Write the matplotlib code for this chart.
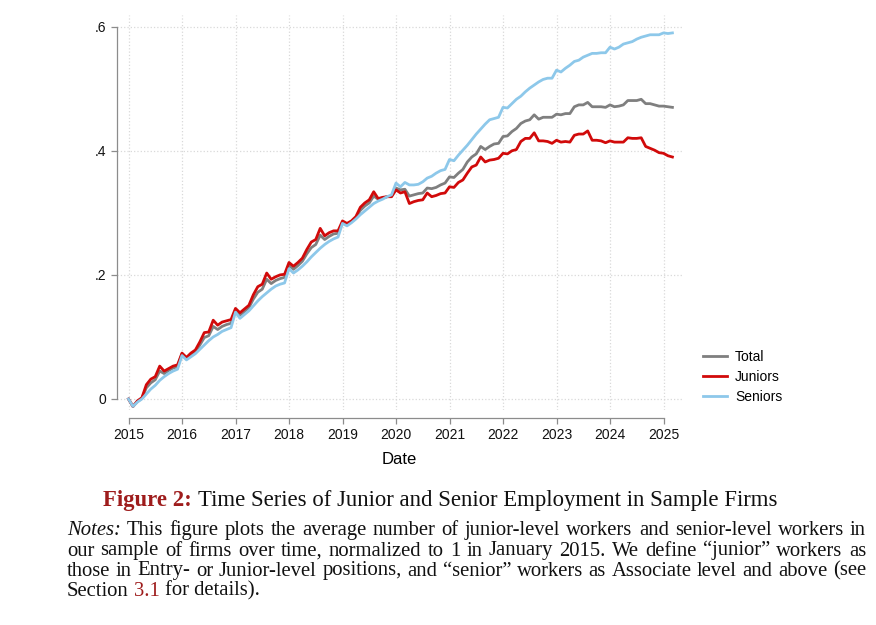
import matplotlib
matplotlib.use('Agg')
import matplotlib.pyplot as plt
import numpy as np

# monthly series, Jan 2015 .. Mar 2025 (log change vs Jan 2015)
total = [0.000, -0.012, -0.004, 0.001, 0.018, 0.026, 0.031, 0.045, 0.041, 0.046, 0.050, 0.052,
         0.073, 0.065, 0.071, 0.076, 0.087, 0.099, 0.102, 0.117, 0.112, 0.117, 0.120, 0.122,
         0.144, 0.135, 0.141, 0.147, 0.161, 0.172, 0.177, 0.193, 0.186, 0.191, 0.194, 0.196,
         0.216, 0.209, 0.215, 0.222, 0.234, 0.244, 0.249, 0.264, 0.257, 0.262, 0.266, 0.267,
         0.285, 0.281, 0.286, 0.292, 0.304, 0.311, 0.316, 0.327, 0.322, 0.324, 0.326, 0.327,
         0.340, 0.337, 0.338, 0.327, 0.329, 0.331, 0.332, 0.340, 0.339, 0.341, 0.345, 0.348,
         0.358, 0.357, 0.364, 0.370, 0.382, 0.390, 0.395, 0.407, 0.402, 0.407, 0.411, 0.412,
         0.423, 0.424, 0.431, 0.436, 0.444, 0.448, 0.450, 0.458, 0.451, 0.454, 0.454, 0.454,
         0.459, 0.458, 0.460, 0.460, 0.471, 0.474, 0.474, 0.478, 0.471, 0.471, 0.471, 0.470,
         0.474, 0.471, 0.472, 0.474, 0.481, 0.481, 0.481, 0.483, 0.476, 0.476, 0.474, 0.472,
         0.472, 0.471, 0.470]
juniors = [0.000, -0.012, -0.003, 0.002, 0.023, 0.032, 0.036, 0.053, 0.045, 0.049, 0.053, 0.055,
           0.074, 0.067, 0.074, 0.079, 0.092, 0.107, 0.108, 0.127, 0.119, 0.124, 0.126, 0.128,
           0.146, 0.139, 0.145, 0.151, 0.168, 0.181, 0.185, 0.203, 0.193, 0.197, 0.200, 0.201,
           0.220, 0.214, 0.220, 0.227, 0.241, 0.253, 0.257, 0.275, 0.263, 0.268, 0.271, 0.271,
           0.287, 0.283, 0.287, 0.294, 0.309, 0.316, 0.321, 0.334, 0.323, 0.325, 0.326, 0.326,
           0.337, 0.332, 0.334, 0.315, 0.318, 0.320, 0.321, 0.332, 0.326, 0.328, 0.331, 0.332,
           0.342, 0.341, 0.349, 0.353, 0.364, 0.374, 0.377, 0.390, 0.382, 0.385, 0.386, 0.388,
           0.396, 0.395, 0.400, 0.402, 0.415, 0.420, 0.420, 0.429, 0.416, 0.416, 0.415, 0.412,
           0.417, 0.414, 0.415, 0.414, 0.425, 0.427, 0.427, 0.432, 0.417, 0.417, 0.416, 0.413,
           0.416, 0.414, 0.414, 0.414, 0.421, 0.420, 0.420, 0.421, 0.407, 0.404, 0.401, 0.397,
           0.396, 0.392, 0.390]
seniors = [0.000, -0.012, -0.005, 0.000, 0.008, 0.016, 0.022, 0.030, 0.036, 0.041, 0.045, 0.048,
           0.070, 0.063, 0.068, 0.073, 0.080, 0.087, 0.094, 0.100, 0.104, 0.109, 0.112, 0.115,
           0.140, 0.130, 0.136, 0.142, 0.150, 0.158, 0.165, 0.171, 0.177, 0.182, 0.185, 0.187,
           0.210, 0.203, 0.208, 0.214, 0.221, 0.229, 0.236, 0.243, 0.249, 0.254, 0.258, 0.261,
           0.283, 0.279, 0.284, 0.290, 0.297, 0.303, 0.309, 0.315, 0.319, 0.322, 0.326, 0.329,
           0.348, 0.342, 0.349, 0.345, 0.345, 0.346, 0.350, 0.356, 0.359, 0.364, 0.368, 0.370,
           0.386, 0.384, 0.393, 0.401, 0.409, 0.418, 0.427, 0.435, 0.443, 0.450, 0.452, 0.454,
           0.470, 0.469, 0.476, 0.483, 0.488, 0.495, 0.501, 0.506, 0.511, 0.515, 0.517, 0.517,
           0.530, 0.527, 0.533, 0.538, 0.544, 0.546, 0.551, 0.554, 0.557, 0.557, 0.558, 0.558,
           0.567, 0.564, 0.567, 0.572, 0.574, 0.576, 0.580, 0.583, 0.585, 0.587, 0.587, 0.587,
           0.590, 0.589, 0.590]

dates = 2015 + np.arange(len(total)) / 12.0
year_ticks = list(range(2015, 2026))
y_ticks = [0, 0.2, 0.4, 0.6]
y_labels = ['0', '.2', '.4', '.6']

caption_red = 'Figure 2:'
caption_rest = 'Time Series of Junior and Senior Employment in Sample Firms'
notes_lines = [
    'This figure plots the average number of junior-level workers and senior-level workers in',
    'our sample of firms over time, normalized to 1 in January 2015. We define \u201cjunior\u201d workers as',
    'those in Entry- or Junior-level positions, and \u201csenior\u201d workers as Associate level and above (see',
]

W, H = 876, 625
plt.rcParams['font.family'] = 'Liberation Sans'
fig = plt.figure(figsize=(W / 100, H / 100), dpi=100)

# plot region in pixels
px_l, px_r, px_t, px_b = 117, 682, 15, 410
ax = fig.add_axes([px_l / W, 1 - px_b / H, (px_r - px_l) / W, (px_b - px_t) / H])

x0_px, px_per_year = 128.5, 53.5
y0_px, px_per_unit = 399, 620.5
ax.set_xlim(2015 + (px_l - x0_px) / px_per_year, 2015 + (px_r - x0_px) / px_per_year)
ax.set_ylim((y0_px - px_b) / px_per_unit, (y0_px - px_t) / px_per_unit)

lw = 2.0
ax.plot(dates, total, color='#7f7f7f', lw=lw, label='Total')
ax.plot(dates, juniors, color='#d10a0a', lw=lw, label='Juniors')
ax.plot(dates, seniors, color='#8dc8ea', lw=lw, label='Seniors')

ax.set_xticks(year_ticks)
ax.set_yticks(y_ticks)
ax.set_yticklabels(y_labels)
ax.grid(True, linestyle=':', color='#d9d9d9', lw=0.9)
ax.set_axisbelow(True)

for s in ['top', 'right']:
    ax.spines[s].set_visible(False)
ax.spines['left'].set_bounds(0, 0.6)
ax.spines['bottom'].set_bounds(2015, 2025)
ax.spines['bottom'].set_position(('outward', 5.5))
for s in ['left', 'bottom']:
    ax.spines[s].set_color('#8c8c8c')
    ax.spines[s].set_linewidth(0.9)
ax.tick_params(direction='out', length=4.5, width=0.9, color='#8c8c8c',
               labelsize=10, labelcolor='#111111', pad=3)
ax.set_xlabel('Date', fontsize=12, labelpad=7)

ax.legend(loc='center left', bbox_to_anchor=(696 / W, 1 - 377 / H), bbox_transform=fig.transFigure,
          fontsize=10, frameon=False, handlelength=1.75, handletextpad=0.55, labelspacing=0.45,
          borderpad=0)

# caption and notes (serif, justified)
renderer = fig.canvas.get_renderer()
serif = 'Liberation Serif'
red_text = '#9e1c1c'


def width_of(s, size, **kw):
    t = fig.text(0, 0, s, fontsize=size, family=serif, **kw)
    w = t.get_window_extent(renderer).width
    t.remove()
    return w


def put(xpx, ypx, s, size, **kw):
    t = fig.text(xpx / W, 1 - ypx / H, s, fontsize=size, family=serif, va='baseline', ha='left', **kw)
    return t.get_window_extent(renderer).width


# caption, fitted between x=103 and x=776
cap_w = width_of(caption_red + ' ', 10, weight='bold') + width_of(caption_rest, 10)
cap_size = 10 * (776 - 103) / cap_w
x = 103
x += put(x, 506, caption_red + ' ', cap_size, weight='bold', color=red_text)
put(x, 506, caption_rest, cap_size, color='#111111')

# notes: first three lines justified from x=67 to x=866
left, right = 67, 866
nat = width_of('Notes: ' + notes_lines[0], 10)
note_size = 10 * (right - left) / nat * 0.985
space = width_of('a b', note_size) - width_of('ab', note_size)
baselines = [535, 555.5, 575.5, 595.5]
for i, line in enumerate(notes_lines):
    words = line.split()
    styles = [{} for _ in words]
    if i == 0:
        words = ['Notes:'] + words
        styles = [{'style': 'italic'}] + styles
    ws = [width_of(w, note_size, **st) for w, st in zip(words, styles)]
    gap = (right - left - sum(ws)) / (len(words) - 1)
    x = left
    for w, st, wd in zip(words, styles, ws):
        put(x, baselines[i], w, note_size, color='#111111', **st)
        x += wd + gap

x = left
x += put(x, baselines[3], 'Section', note_size, color='#111111') + space
x += put(x, baselines[3], '3.1', note_size, color=red_text) + space
put(x, baselines[3], 'for details).', note_size, color='#111111')

fig.savefig('out.png', dpi=100, facecolor='white')
